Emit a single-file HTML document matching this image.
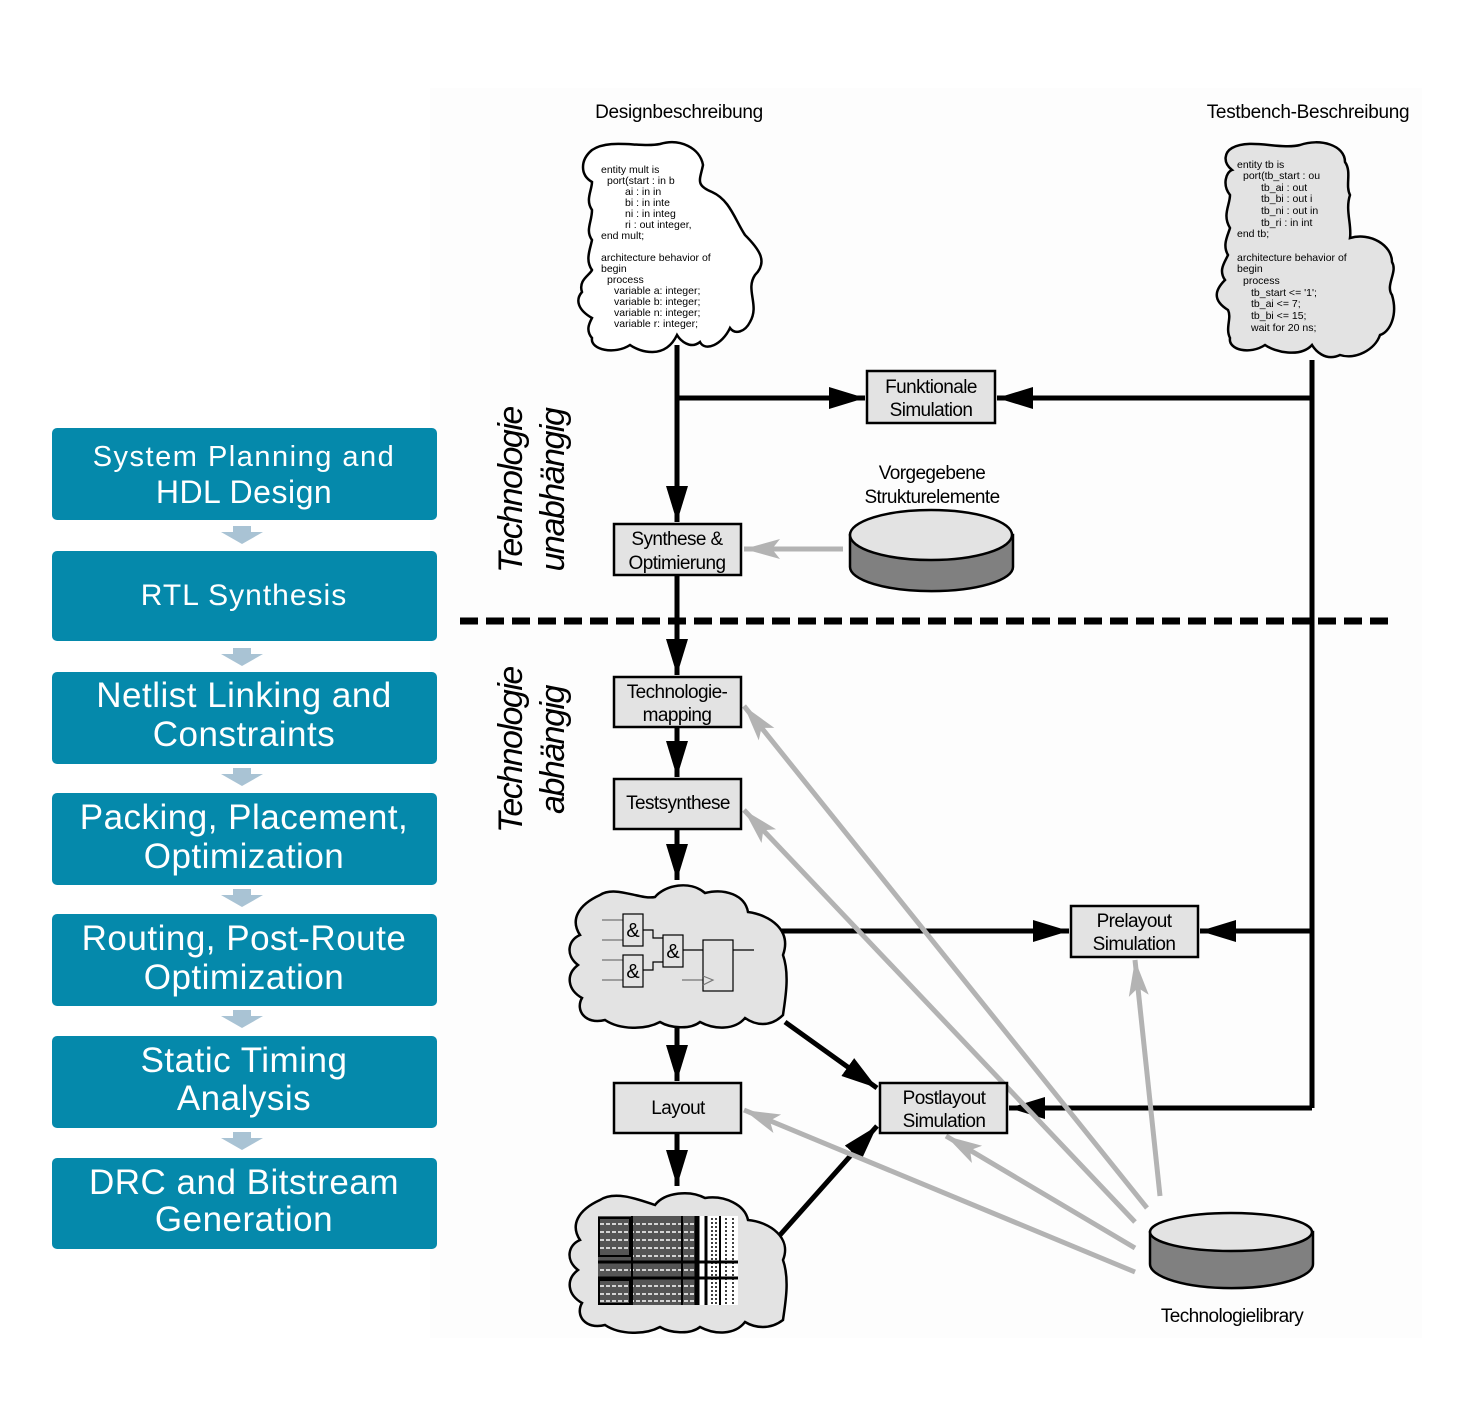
<!DOCTYPE html>
<html><head><meta charset="utf-8"><style>
html,body{margin:0;padding:0;background:#fff}
svg{display:block}
.t{font-family:"Liberation Sans",sans-serif;fill:#000}
.lb{font-family:"Liberation Sans",sans-serif;fill:#fff;font-size:31px;text-anchor:middle;letter-spacing:0.5px}
.code{font-family:"Liberation Sans",sans-serif;font-size:10.5px;fill:#000;white-space:pre}
</style></head><body>
<svg width="1476" height="1416" viewBox="0 0 1476 1416" xmlns="http://www.w3.org/2000/svg">
<defs>
<marker id="ab" markerUnits="userSpaceOnUse" markerWidth="40" markerHeight="22" refX="36" refY="11" orient="auto"><path d="M0,0 L36,11 L0,22 Z" fill="#000"/></marker>
<marker id="ag" markerUnits="userSpaceOnUse" markerWidth="40" markerHeight="22" refX="36" refY="11" orient="auto"><path d="M0,1 L36,11 L0,21 L8,11 Z" fill="#b3b3b3"/></marker>
</defs>
<rect x="430" y="88" width="992" height="1250" fill="#fdfdfd"/>

<!-- Left flow boxes -->
<g>
<rect x="52" y="428" width="385" height="92" rx="5" fill="#0589ab"/>
<rect x="52" y="551" width="385" height="90" rx="5" fill="#0589ab"/>
<rect x="52" y="672" width="385" height="92" rx="5" fill="#0589ab"/>
<rect x="52" y="793" width="385" height="92" rx="5" fill="#0589ab"/>
<rect x="52" y="914" width="385" height="92" rx="5" fill="#0589ab"/>
<rect x="52" y="1036" width="385" height="92" rx="5" fill="#0589ab"/>
<rect x="52" y="1158" width="385" height="91" rx="5" fill="#0589ab"/>
<g fill="#a9c3d4">
<path d="M233,526 h18 v6 h12 l-21,12 l-21,-12 h12 z"/>
<path d="M233,648 h18 v6 h12 l-21,12 l-21,-12 h12 z"/>
<path d="M233,768 h18 v6 h12 l-21,12 l-21,-12 h12 z"/>
<path d="M233,889 h18 v6 h12 l-21,12 l-21,-12 h12 z"/>
<path d="M233,1010 h18 v6 h12 l-21,12 l-21,-12 h12 z"/>
<path d="M233,1132 h18 v6 h12 l-21,12 l-21,-12 h12 z"/>
</g>
<text class="lb" x="244" y="466" style="font-size:29px;letter-spacing:1.5px">System Planning and</text>
<text class="lb" x="244" y="503" style="font-size:32px">HDL Design</text>
<text class="lb" x="244" y="605" style="font-size:30px;letter-spacing:1px">RTL Synthesis</text>
<text class="lb" x="244" y="707" style="font-size:35px">Netlist Linking and</text>
<text class="lb" x="244" y="746" style="font-size:35px">Constraints</text>
<text class="lb" x="244" y="829" style="font-size:35px">Packing, Placement,</text>
<text class="lb" x="244" y="868" style="font-size:35px">Optimization</text>
<text class="lb" x="244" y="950" style="font-size:35px">Routing, Post-Route</text>
<text class="lb" x="244" y="989" style="font-size:35px">Optimization</text>
<text class="lb" x="244" y="1072" style="font-size:35px">Static Timing</text>
<text class="lb" x="244" y="1110" style="font-size:35px">Analysis</text>
<text class="lb" x="244" y="1194" style="font-size:35px">DRC and Bitstream</text>
<text class="lb" x="244" y="1231" style="font-size:35px">Generation</text>
</g>

<!-- Titles -->
<text class="t" x="679" y="118" font-size="19" text-anchor="middle" letter-spacing="-0.3">Designbeschreibung</text>
<text class="t" x="1308" y="118" font-size="19" text-anchor="middle" letter-spacing="-0.3">Testbench-Beschreibung</text>

<!-- Design cloud -->
<path d="M592,150 C610,138 640,148 660,144 C680,138 700,148 703,165 C700,180 695,185 712,192 C730,200 735,220 745,235 C760,250 768,262 755,275 C745,290 760,305 750,322 C745,332 735,335 730,328 C722,345 705,352 700,342 C690,350 680,340 677,335 C665,360 640,352 630,345 C615,355 590,350 592,338 C585,330 590,322 592,318 C578,310 575,300 582,292 C578,280 590,275 592,270 C585,260 590,250 592,240 C585,230 592,222 592,210 C585,200 592,190 592,182 C580,175 580,160 592,150 Z" fill="#fff" stroke="#000" stroke-width="2.5"/>
<g class="code" xml:space="preserve">
<text x="601" y="173">entity mult is</text>
<text x="607" y="184">port(start : in  b</text>
<text x="625" y="195">ai    : in  in</text>
<text x="625" y="206">bi    : in  inte</text>
<text x="625" y="217">ni    : in  integ</text>
<text x="625" y="228">ri     : out integer,</text>
<text x="601" y="239">end mult;</text>
<text x="601" y="261">architecture behavior of</text>
<text x="601" y="272">begin</text>
<text x="607" y="283">process</text>
<text x="614" y="294">variable a: integer;</text>
<text x="614" y="305">variable b: integer;</text>
<text x="614" y="316">variable n: integer;</text>
<text x="614" y="327">variable r:    integer;</text>
</g>

<!-- Testbench cloud -->
<path d="M1232,148 C1250,138 1280,150 1300,145 C1320,138 1345,145 1345,162 C1352,172 1345,185 1350,195 C1345,210 1352,225 1350,238 C1370,232 1392,245 1392,262 C1398,272 1385,285 1392,295 C1398,315 1390,332 1380,335 C1375,350 1355,360 1340,355 C1325,362 1315,350 1312,345 C1300,358 1275,352 1265,345 C1250,355 1228,350 1230,338 C1225,328 1232,318 1228,310 C1212,300 1215,290 1225,280 C1218,270 1225,262 1228,255 C1222,245 1228,235 1230,228 C1222,215 1230,205 1230,195 C1222,185 1226,172 1232,170 C1222,162 1225,152 1232,148 Z" fill="#e3e3e3" stroke="#000" stroke-width="2.5"/>
<g class="code" xml:space="preserve">
<text x="1237" y="168">entity tb is</text>
<text x="1243" y="179">port(tb_start : ou</text>
<text x="1261" y="191">tb_ai    : out</text>
<text x="1261" y="202">tb_bi    : out i</text>
<text x="1261" y="214">tb_ni    : out in</text>
<text x="1261" y="226">tb_ri     : in  int</text>
<text x="1237" y="237">end tb;</text>
<text x="1237" y="261">architecture behavior of</text>
<text x="1237" y="272">begin</text>
<text x="1243" y="284">process</text>
<text x="1251" y="296">tb_start &lt;= '1';</text>
<text x="1251" y="307">tb_ai &lt;= 7;</text>
<text x="1251" y="319">tb_bi &lt;= 15;</text>
<text x="1251" y="331">wait for 20 ns;</text>
</g>

<!-- black connectors -->
<g stroke="#000" stroke-width="5" fill="none">
<line x1="677" y1="345" x2="677" y2="522" marker-end="url(#ab)"/>
<line x1="677" y1="398" x2="865" y2="398" marker-end="url(#ab)"/>
<polyline points="1312,360 1312,1108"/>
<line x1="1312" y1="398" x2="997" y2="398" marker-end="url(#ab)"/>
<line x1="677" y1="575" x2="677" y2="675" marker-end="url(#ab)"/>
<line x1="677" y1="727" x2="677" y2="777" marker-end="url(#ab)"/>
<line x1="677" y1="829" x2="677" y2="880" marker-end="url(#ab)"/>
<line x1="677" y1="1020" x2="677" y2="1081" marker-end="url(#ab)"/>
<line x1="677" y1="1133" x2="677" y2="1186" marker-end="url(#ab)"/>
<line x1="780" y1="931" x2="1069" y2="931" marker-end="url(#ab)"/>
<line x1="1312" y1="931" x2="1200" y2="931" marker-end="url(#ab)"/>
<line x1="1312" y1="1108" x2="1009" y2="1108" marker-end="url(#ab)"/>
<line x1="785" y1="1022" x2="877" y2="1088" marker-end="url(#ab)"/>
<line x1="780" y1="1235" x2="877" y2="1126" marker-end="url(#ab)"/>
</g>

<!-- dashed line -->
<line x1="460" y1="621" x2="1390" y2="621" stroke="#000" stroke-width="7" stroke-dasharray="18,8"/>

<!-- gray connectors -->
<g stroke="#b3b3b3" stroke-width="5" fill="none">
<line x1="843" y1="549" x2="744" y2="549" marker-end="url(#ag)"/>
<line x1="1147" y1="1208" x2="744" y2="706" marker-end="url(#ag)"/>
<line x1="1135" y1="1222" x2="744" y2="810" marker-end="url(#ag)"/>
<line x1="1135" y1="1272" x2="744" y2="1110" marker-end="url(#ag)"/>
<line x1="1135" y1="1248" x2="946" y2="1136" marker-end="url(#ag)"/>
<line x1="1160" y1="1196" x2="1135" y2="960" marker-end="url(#ag)"/>
</g>

<!-- boxes -->
<g stroke="#000" stroke-width="2.5" fill="#e3e3e3">
<rect x="867" y="371" width="128" height="52"/>
<rect x="614" y="524" width="127" height="51"/>
<rect x="614" y="677" width="127" height="50"/>
<rect x="614" y="779" width="127" height="50"/>
<rect x="1071" y="906" width="127" height="51"/>
<rect x="614" y="1083" width="127" height="50"/>
<rect x="880" y="1083" width="127" height="50"/>
</g>
<g class="t" font-size="19" text-anchor="middle" letter-spacing="-0.6">
<text x="931" y="393">Funktionale</text><text x="931" y="416">Simulation</text>
<text x="677" y="545">Synthese &amp;</text><text x="677" y="569">Optimierung</text>
<text x="677" y="698">Technologie-</text><text x="677" y="721">mapping</text>
<text x="678" y="809">Testsynthese</text>
<text x="1134" y="927">Prelayout</text><text x="1134" y="950">Simulation</text>
<text x="678" y="1114">Layout</text>
<text x="944" y="1104">Postlayout</text><text x="944" y="1127">Simulation</text>
<text x="932" y="479">Vorgegebene</text><text x="932" y="503">Strukturelemente</text>
<text x="1232" y="1322">Technologielibrary</text>
</g>

<!-- cylinders -->
<g stroke="#000" stroke-width="2.5">
<path d="M850,535 v32 a81,24 0 0 0 163,0 v-32 z" fill="#808080"/>
<ellipse cx="931" cy="535" rx="81" ry="25" fill="#e3e3e3"/>
<path d="M1150,1232 v32 a81,24 0 0 0 163,0 v-32 z" fill="#808080"/>
<ellipse cx="1231" cy="1232" rx="81" ry="19" fill="#e3e3e3"/>
</g>

<!-- rotated labels -->
<g class="t" font-size="34" font-style="italic" text-anchor="middle" letter-spacing="-1.5">
<text transform="translate(522,490) rotate(-90)">Technologie</text>
<text transform="translate(564,490) rotate(-90)">unabhängig</text>
<text transform="translate(522,750) rotate(-90)">Technologie</text>
<text transform="translate(564,750) rotate(-90)">abhängig</text>
</g>

<!-- netlist cloud -->
<path d="M600,895 C615,885 640,900 655,897 C665,885 690,880 705,893 C725,888 745,895 748,912 C770,915 792,930 783,955 C790,975 785,1000 783,1015 C770,1028 755,1025 745,1018 C735,1030 715,1030 700,1022 C690,1030 670,1028 660,1022 C645,1030 620,1030 605,1020 C585,1025 575,1010 582,998 C568,990 565,975 578,965 C565,955 568,940 580,935 C570,920 578,905 600,895 Z" fill="#e3e3e3" stroke="#000" stroke-width="2.5"/>
<g stroke="#888" stroke-width="1.5"><line x1="602" y1="920" x2="623" y2="920"/><line x1="602" y1="940" x2="623" y2="940"/><line x1="602" y1="960" x2="623" y2="960"/><line x1="602" y1="980" x2="623" y2="980"/><line x1="682" y1="980" x2="703" y2="980"/></g>
<g stroke="#000" stroke-width="1.2" fill="none">
<rect x="623" y="914" width="20" height="32"/><rect x="623" y="955" width="20" height="32"/>
<rect x="663" y="935" width="20" height="32"/><rect x="703" y="940" width="30" height="51"/>
<polyline points="643,930 653,930 653,938 663,938"/><polyline points="643,970 653,970 653,962 663,962"/>
<line x1="683" y1="950" x2="703" y2="950"/><line x1="733" y1="950" x2="754" y2="950"/>
<polyline points="703,976 713,980 703,985" stroke="#777"/>
</g>
<g class="t" font-size="20" text-anchor="middle"><text x="633" y="937">&amp;</text><text x="633" y="978">&amp;</text><text x="673" y="958">&amp;</text></g>

<!-- layout cloud -->
<path d="M600,1200 C615,1190 640,1200 655,1205 C665,1192 690,1190 705,1198 C725,1195 745,1205 748,1220 C770,1222 792,1238 783,1260 C790,1280 785,1305 783,1320 C770,1330 755,1328 745,1322 C735,1335 715,1335 700,1327 C690,1335 670,1333 660,1327 C645,1335 620,1335 605,1325 C585,1330 575,1315 582,1303 C568,1295 565,1280 578,1270 C565,1260 568,1245 580,1240 C570,1225 578,1210 600,1200 Z" fill="#e3e3e3" stroke="#000" stroke-width="2.5"/>
<g>
<rect x="598" y="1216" width="140" height="89" fill="#fff"/>
<rect x="598" y="1216" width="98" height="89" fill="#555"/>
<g stroke="#fff" stroke-width="1.5" stroke-dasharray="4,2">
<line x1="600" y1="1224" x2="694" y2="1224"/><line x1="600" y1="1232" x2="694" y2="1232"/><line x1="600" y1="1240" x2="694" y2="1240"/><line x1="600" y1="1248" x2="694" y2="1248"/><line x1="600" y1="1256" x2="694" y2="1256"/>
<line x1="600" y1="1270" x2="694" y2="1270"/><line x1="600" y1="1286" x2="694" y2="1286"/><line x1="600" y1="1294" x2="694" y2="1294"/><line x1="600" y1="1301" x2="694" y2="1301"/>
</g>
<g stroke="#000" stroke-width="2" fill="none">
<rect x="599" y="1218" width="31" height="38"/><rect x="599" y="1280" width="31" height="24"/>
<line x1="598" y1="1262" x2="738" y2="1262" stroke-width="3"/><line x1="598" y1="1278" x2="738" y2="1278" stroke-width="3"/>
<line x1="632" y1="1216" x2="632" y2="1305"/><line x1="682" y1="1216" x2="682" y2="1305"/>
<line x1="697" y1="1216" x2="697" y2="1305" stroke-width="5"/><line x1="706" y1="1216" x2="706" y2="1305" stroke-width="3"/>
<line x1="720" y1="1216" x2="720" y2="1305" stroke-width="2"/>
</g>
<g stroke="#000" stroke-width="1.5" stroke-dasharray="2,2">
<line x1="712" y1="1218" x2="712" y2="1305"/><line x1="716" y1="1218" x2="716" y2="1305"/><line x1="726" y1="1218" x2="726" y2="1305"/><line x1="733" y1="1218" x2="733" y2="1305"/>
</g>
</g>
</svg>
</body></html>
